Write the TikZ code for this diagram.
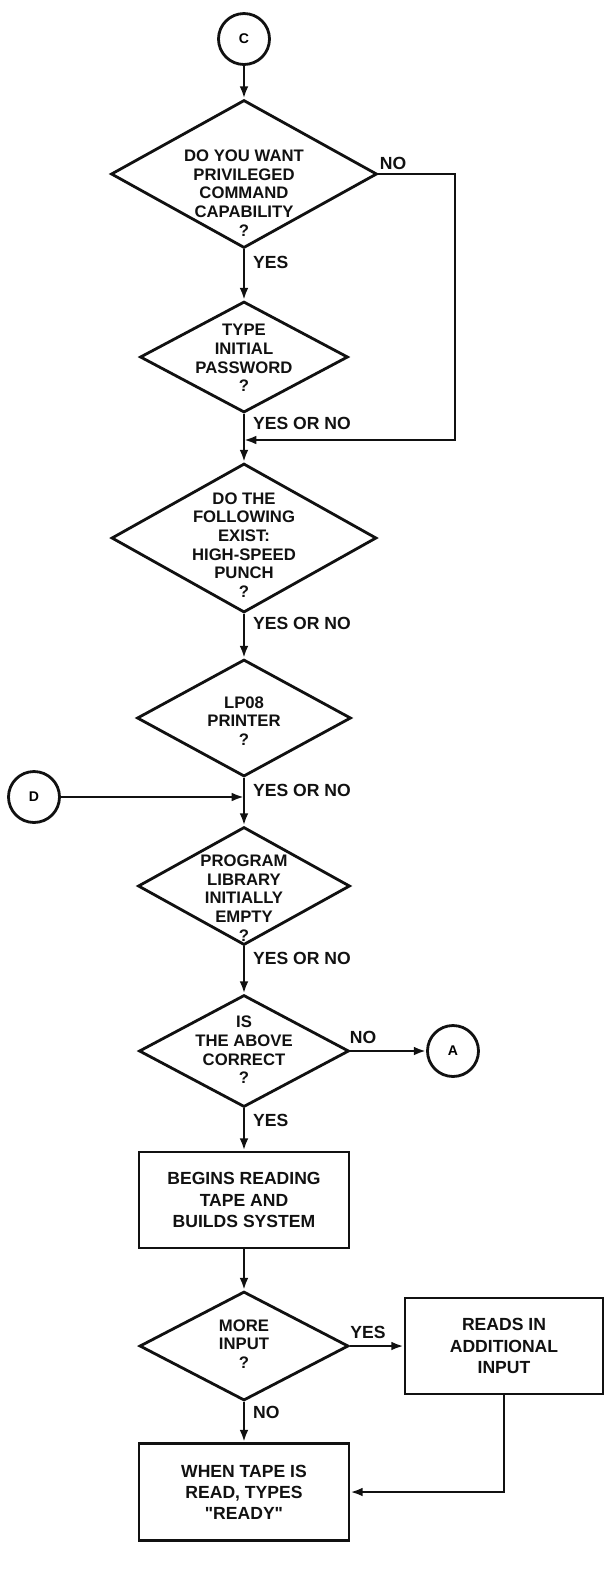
\documentclass[tikz,border=0pt]{standalone}
\usepackage{fontspec}
\setmainfont{Liberation Sans}
\usepackage{tikz}
\usetikzlibrary{shapes.geometric,arrows.meta}
\definecolor{ink}{HTML}{111111}
\tikzset{
  base/.style={draw=ink, line width=1.6pt, line join=miter},
  flow/.style={base, -{Latex[length=7pt,width=5pt]}},
  decision/.style={base, diamond, inner sep=0pt},
  process/.style={base, rectangle, inner sep=0pt},
  conn/.style={base, circle, minimum size=1.02cm, inner sep=0pt, font=\bfseries\fontsize{8}{9}\selectfont},
  qtext/.style={align=center, text=ink, inner sep=0pt, font=\bfseries\fontsize{9.5}{10.6}\selectfont},
  btext/.style={align=center, text=ink, inner sep=0pt, font=\bfseries\fontsize{10}{12}\selectfont},
  lbl/.style={text=ink, inner sep=1pt, font=\bfseries\fontsize{10}{12}\selectfont},
}

\begin{document}
\begin{tikzpicture}[x=0.02cm, y=-0.02cm]
  \useasboundingbox (0,0) rectangle (605,1570);

  % off-page connectors
  \node[conn] (c) at (244,39) {C};
  \node[conn] (d) at (34,797) {D};
  \node[conn] (a) at (453,1051) {A};

  % decisions
  \node[decision, minimum width=5.32cm, minimum height=2.96cm] (q1) at (244,174) {};
  \node[decision, minimum width=4.16cm, minimum height=2.22cm] (q2) at (244,357) {};
  \node[decision, minimum width=5.30cm, minimum height=2.98cm] (q3) at (244,538) {};
  \node[decision, minimum width=4.28cm, minimum height=2.34cm] (q4) at (244,718) {};
  \node[decision, minimum width=4.24cm, minimum height=2.36cm] (q5) at (244,886) {};
  \node[decision, minimum width=4.20cm, minimum height=2.24cm] (q6) at (244,1051) {};
  \node[decision, minimum width=4.18cm, minimum height=2.18cm] (q7) at (244,1346) {};

  \node[qtext] (t1) at (244,193) {DO YOU WANT\\PRIVILEGED\\COMMAND\\CAPABILITY\\?};
  \node[qtext] (t2) at (244,358) {TYPE\\INITIAL\\PASSWORD\\?};
  \node[qtext] (t3) at (244,545) {DO THE\\FOLLOWING\\EXIST:\\HIGH-SPEED\\PUNCH\\?};
  \node[qtext] (t4) at (244,721) {LP08\\PRINTER\\?};
  \node[qtext] (t5) at (244,898) {PROGRAM\\LIBRARY\\INITIALLY\\EMPTY\\?};
  \node[qtext] (t6) at (244,1050) {IS\\THE ABOVE\\CORRECT\\?};
  \node[qtext] (t7) at (244,1344) {MORE\\INPUT\\?};

  % processes
  \node[process, minimum width=4.2cm, minimum height=1.92cm, btext] (b1) at (244,1200)
    {BEGINS READING\\TAPE AND\\BUILDS SYSTEM};
  \node[process, minimum width=3.96cm, minimum height=1.92cm, btext] (b2) at (504,1346)
    {READS IN\\ADDITIONAL\\INPUT};
  \node[process, minimum width=4.2cm, minimum height=1.94cm, btext] (b3) at (244,1492)
    {WHEN TAPE IS\\READ, TYPES\\\textquotedbl READY\textquotedbl};

  % junctions on the main line
  \coordinate (m1) at (244,440);
  \coordinate (r1) at (455,440);
  \coordinate (m2) at (244,797);

  % connectors
  \draw[flow] (c) -- (q1.north);
  \draw[flow] (q1.south) -- (q2.north);
  \draw[flow] (q1.east) -| (r1) -- (m1);
  \draw[flow] (q2.south) -- (q3.north);
  \draw[flow] (q3.south) -- (q4.north);
  \draw[flow] (q4.south) -- (q5.north);
  \draw[flow] (d) -- (m2);
  \draw[flow] (q5.south) -- (q6.north);
  \draw[flow] (q6.east) -- (a);
  \draw[flow] (q6.south) -- (b1.north);
  \draw[flow] (b1.south) -- (q7.north);
  \draw[flow] (q7.east) -- (b2.west);
  \draw[flow] (q7.south) -- (b3.north);
  \draw[flow] (b2.south) |- (b3.east);

  % branch labels
  \node[lbl] (n1) at (393,163) {NO};
  \node[lbl, anchor=west] (y1) at (251,262) {YES};
  \node[lbl, anchor=west] (y2) at (251,423) {YES OR NO};
  \node[lbl, anchor=west] (y3) at (251,623) {YES OR NO};
  \node[lbl, anchor=west] (y4) at (251,790) {YES OR NO};
  \node[lbl, anchor=west] (y5) at (251,958) {YES OR NO};
  \node[lbl] (n6) at (363,1037) {NO};
  \node[lbl, anchor=west] (y6) at (251,1120) {YES};
  \node[lbl] (y7) at (368,1332) {YES};
  \node[lbl, anchor=west] (n7) at (251,1412) {NO};
\end{tikzpicture}
\end{document}
